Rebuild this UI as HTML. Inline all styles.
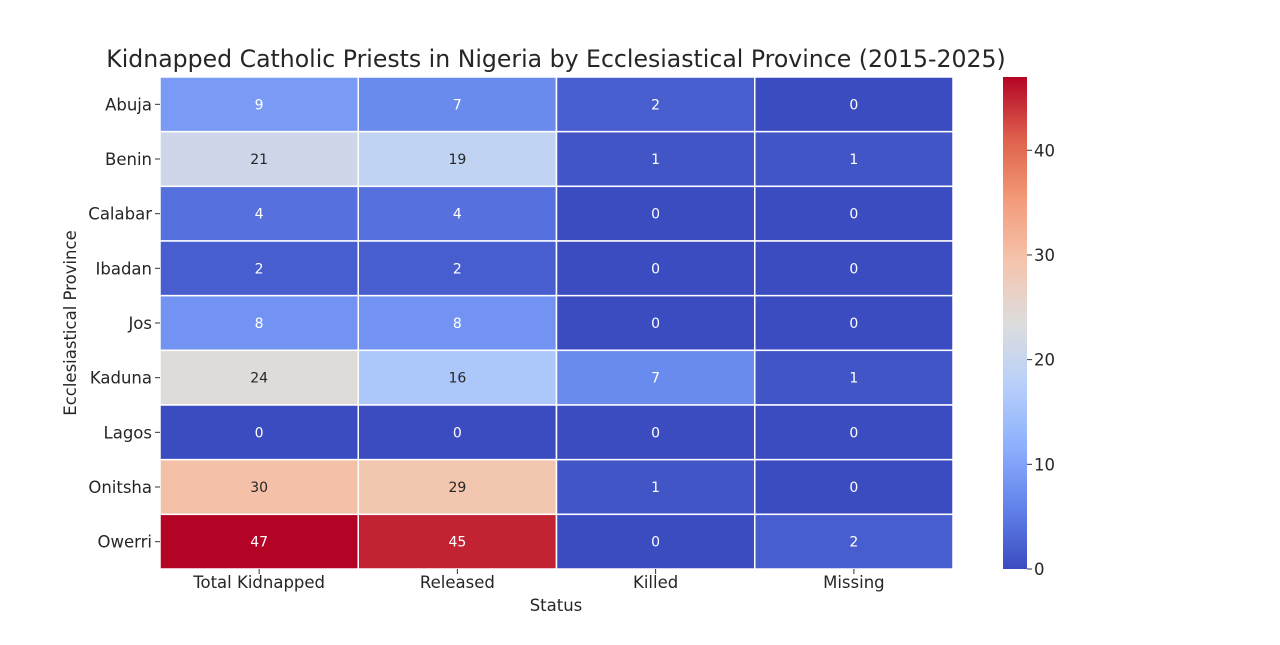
<!DOCTYPE html>
<html><head><meta charset="utf-8"><style>
body{margin:0;background:#fff;width:1280px;height:640px;overflow:hidden;font-family:"Liberation Sans","DejaVu Sans",sans-serif;}
</style></head><body>
<svg id="s" width="1280" height="640" xmlns="http://www.w3.org/2000/svg" font-family="DejaVu Sans, Liberation Sans, sans-serif"></svg>
<script>
const stops=[[0,[59,76,192]],[0.125,[98,130,234]],[0.25,[141,176,254]],[0.375,[184,208,249]],[0.5,[221,221,221]],[0.625,[245,196,173]],[0.75,[244,154,123]],[0.875,[222,96,76]],[1,[180,4,38]]];
function col(t){for(let i=0;i<stops.length-1;i++){const[a,ca]=stops[i],[b,cb]=stops[i+1];if(t<=b){const f=(t-a)/(b-a);return 'rgb('+ca.map((c,k)=>Math.round(c+(cb[k]-c)*f)).join(',')+')';}}return 'rgb(180,4,38)';}
const rows=["Abuja","Benin","Calabar","Ibadan","Jos","Kaduna","Lagos","Onitsha","Owerri"];
const data=[[9,7,2,0],[21,19,1,1],[4,4,0,0],[2,2,0,0],[8,8,0,0],[24,16,7,1],[0,0,0,0],[30,29,1,0],[47,45,0,2]];
const cols=["Total Kidnapped","Released","Killed","Missing"];
const x0=160,x1=953,y0=77,y1=569,cw=(x1-x0)/4,rh=(y1-y0)/9,max=47;
let h='<text x="556" y="67" font-size="23.6" fill="#262626" text-anchor="middle">Kidnapped Catholic Priests in Nigeria by Ecclesiastical Province (2015-2025)</text>';
data.forEach((r,i)=>r.forEach((v,j)=>{const t=v/max,x=x0+j*cw,y=y0+i*rh;
h+=`<rect x="${x}" y="${y}" width="${cw}" height="${rh}" fill="${col(t)}" stroke="#fff" stroke-width="1.5"/>`;
const light=(t>0.3&&t<0.8);
h+=`<text x="${x+cw/2}" y="${y+rh/2+5}" font-size="14" text-anchor="middle" fill="${light?'#262626':'#fff'}">${v}</text>`;}));
rows.forEach((n,i)=>{const y=y0+i*rh+rh/2;h+=`<line x1="155" x2="160" y1="${y}" y2="${y}" stroke="#333"/><text x="152" y="${y+6}" font-size="16.5" text-anchor="end" fill="#262626">${n}</text>`;});
cols.forEach((n,j)=>{const x=x0+j*cw+cw/2;h+=`<line x1="${x}" x2="${x}" y1="569" y2="574" stroke="#333"/><text x="${x}" y="588" font-size="16.5" text-anchor="middle" fill="#262626">${n}</text>`;});
h+='<text x="556" y="611" font-size="16.5" text-anchor="middle" fill="#262626">Status</text>';
h+='<text transform="translate(76,323) rotate(-90)" font-size="16.5" text-anchor="middle" fill="#262626">Ecclesiastical Province</text>';
let g='<defs><linearGradient id="cb" x1="0" y1="1" x2="0" y2="0">';stops.forEach(([o,c])=>g+=`<stop offset="${o}" stop-color="rgb(${c})"/>`);g+='</linearGradient></defs>';
h+=g+'<rect x="1003" y="77" width="24" height="492" fill="url(#cb)"/>';
[0,10,20,30,40].forEach(v=>{const y=569-v/max*492;h+=`<line x1="1027" x2="1032" y1="${y}" y2="${y}" stroke="#333"/><text x="1034" y="${y+6}" font-size="16.5" fill="#262626">${v}</text>`;});
document.getElementById('s').innerHTML=h;
</script>
</body></html>
